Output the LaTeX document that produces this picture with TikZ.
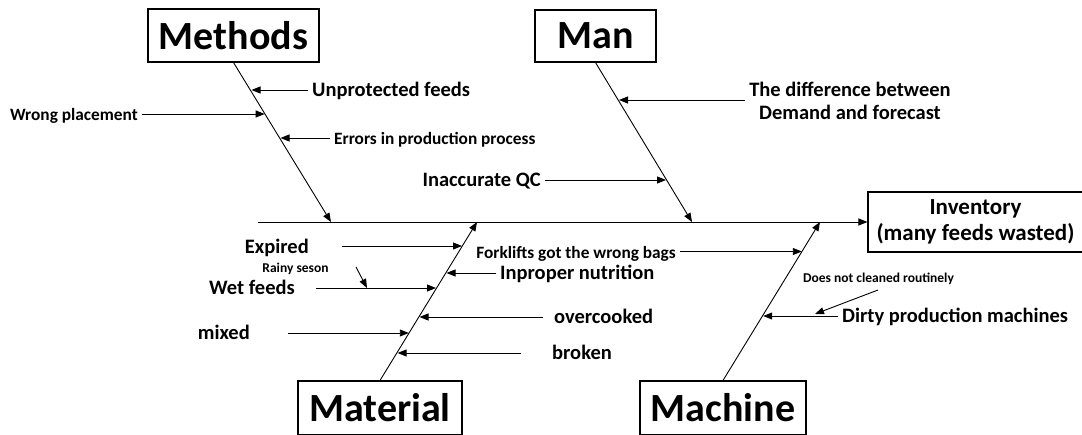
\documentclass[tikz,border=0pt]{standalone}
\usepackage{fontspec}
\setmainfont{Carlito}
\usetikzlibrary{arrows.meta}
\begin{document}
\begin{tikzpicture}[x=1pt,y=-1pt,
  box/.style={draw, line width=1.1pt, inner sep=0pt, font=\fontsize{40}{42}\selectfont\bfseries},
  lbl/.style={inner xsep=4pt, inner ysep=1pt, font=\fontsize{20.5}{23}\selectfont\bfseries},
  sml/.style={lbl, font=\fontsize{17.3}{19}\selectfont\bfseries},
  tny/.style={lbl, font=\fontsize{13.5}{15}\selectfont\bfseries},
  arr/.style={-{Triangle[length=9pt,width=7pt]}, line width=0.9pt}]
\useasboundingbox (0,0) rectangle (1082,435);

% category boxes
\node[box, minimum width=171pt, minimum height=53pt] (methods) at (233.5,35.5) {Methods};
\node[box, minimum width=121pt, minimum height=52pt] (man) at (595.5,36) {Man};
\node[box, minimum width=164pt, minimum height=53.5pt] (material) at (380,407.75) {Material};
\node[box, minimum width=166pt, minimum height=53.5pt] (machine) at (723,407.75) {Machine};
\node[draw, line width=1.1pt, minimum width=215pt, minimum height=60pt, align=center,
      font=\fontsize{23}{26}\selectfont\bfseries] (inv) at (975.5,222) {Inventory\\(many feeds wasted)};

% spine
\coordinate (tail) at (258,222);
\draw[arr] (tail) -- (inv.west);

% bones
\coordinate (mT) at (331,222);
\coordinate (nT) at (692,222);
\coordinate (aT) at (477,222);
\coordinate (cT) at (820,222);
\draw[arr] (methods.south) -- (mT);
\draw[arr] (man.south) -- (nT);
\draw[arr] (material.north) -- (aT);
\draw[arr] (machine.north) -- (cT);

% Methods causes
\coordinate (upT) at (251.5,90);
\node[lbl, anchor=mid west] (up) at (308,94.5) {Unprotected feeds};
\draw[arr] (up.west |- upT) -- (upT);
\coordinate (wpT) at (264.7,114);
\node[sml, anchor=mid east] (wp) at (142,118) {Wrong placement};
\draw[arr] (wp.east |- wpT) -- (wpT);
\coordinate (erT) at (280.5,138);
\node[sml, anchor=mid west] (er) at (330,142) {Errors in production process};
\draw[arr] (er.west |- erT) -- (erT);

% Man causes
\coordinate (dfT) at (619,100);
\node[lbl, align=center] (df) at (850,101) {The difference between\\Demand and forecast};
\draw[arr] (df.west |- dfT) -- (dfT);
\coordinate (qcT) at (666,180);
\node[lbl, anchor=mid east] (qc) at (545,184.5) {Inaccurate QC};
\draw[arr] (qc.east |- qcT) -- (qcT);

% Material causes
\coordinate (exS) at (342,246);
\coordinate (exT) at (462,246);
\node[lbl, anchor=mid east] (ex) at (313,251.5) {Expired};
\draw[arr] (exS) -- (exT);
\coordinate (ipT) at (446.5,273);
\node[lbl, anchor=mid west] (ip) at (496,277.5) {Inproper nutrition};
\draw[arr] (ip.west |- ipT) -- (ipT);
\coordinate (wtS) at (316,288);
\coordinate (wtT) at (436,288);
\node[lbl, anchor=mid east] (wt) at (299,292.5) {Wet feeds};
\draw[arr] (wtS) -- (wtT);
\node[tny, anchor=mid] (rs) at (295.5,270) {Rainy seson};
\coordinate (rsS) at (356,267);
\coordinate (rsT) at (367,288);
\draw[arr] (rsS) -- (rsT);
\coordinate (ovS) at (543,317);
\coordinate (ovT) at (419.5,317);
\node[lbl, anchor=mid west] (ov) at (550,321.5) {overcooked};
\draw[arr] (ovS) -- (ovT);
\coordinate (mxS) at (288,333);
\coordinate (mxT) at (408.8,333);
\node[lbl, anchor=mid east] (mx) at (254,337.5) {mixed};
\draw[arr] (mxS) -- (mxT);
\coordinate (brS) at (521,353);
\coordinate (brT) at (397.6,353);
\node[lbl, anchor=mid west] (br) at (548,357.5) {broken};
\draw[arr] (brS) -- (brT);

% Machine causes
\coordinate (fkT) at (801.8,251.5);
\node[sml, anchor=mid east] (fk) at (680,256) {Forklifts got the wrong bags};
\draw[arr] (fk.east |- fkT) -- (fkT);
\coordinate (dpT) at (763.2,316);
\node[lbl, anchor=mid west] (dp) at (838,320.5) {Dirty production machines};
\draw[arr] (dp.west |- dpT) -- (dpT);
\node[tny, anchor=mid] (dn) at (878.5,280) {Does not cleaned routinely};
\coordinate (dnS) at (878,290);
\coordinate (dnT) at (815,314);
\draw[arr] (dnS) -- (dnT);
\end{tikzpicture}
\end{document}
